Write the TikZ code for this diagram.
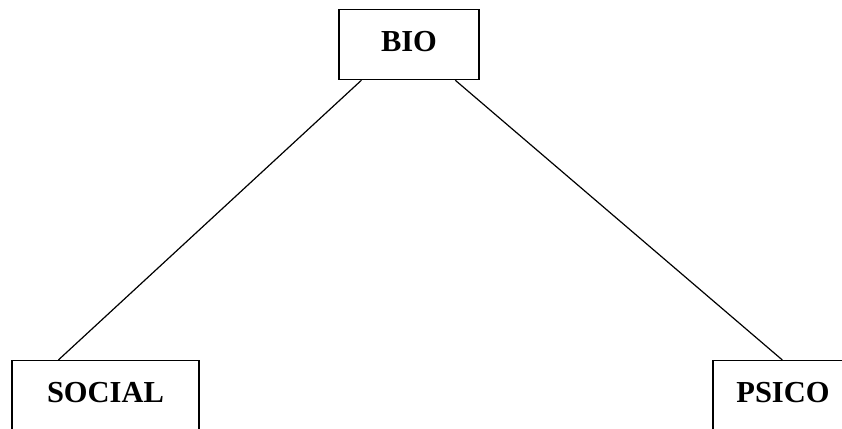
\documentclass[tikz,border=0pt]{standalone}
\usepackage{fontspec}
\setmainfont{Liberation Serif}
\usetikzlibrary{calc}
\begin{document}
\begin{tikzpicture}[x=1bp,y=-1bp,
  boxnode/.style={draw, line width=1.3bp, rectangle, inner xsep=0pt, inner ysep=21bp,
    font=\fontsize{30.5bp}{34bp}\selectfont\bfseries, text height=20.5bp, anchor=north},
  link/.style={line width=1.2bp}]
\fill[white] (0,0) rectangle (842,428);
\useasboundingbox (0,0) rectangle (842,428);
\clip (0,0) rectangle (842,428);
\node[boxnode, minimum width=140bp, text depth=7.5bp] (bio) at (409,9) {BIO};
\node[boxnode, minimum width=187bp, text depth=60bp] (social) at (105.5,360) {SOCIAL};
\node[boxnode, minimum width=140bp, text depth=60bp] (psico) at (783,360) {PSICO};
\draw[link] ($(bio.south west)+(23,0)$) -- ($(social.north west)+(47,0)$);
\draw[link] ($(bio.south west)+(117,0)$) -- ($(psico.north west)+(70,0)$);
\end{tikzpicture}
\end{document}
